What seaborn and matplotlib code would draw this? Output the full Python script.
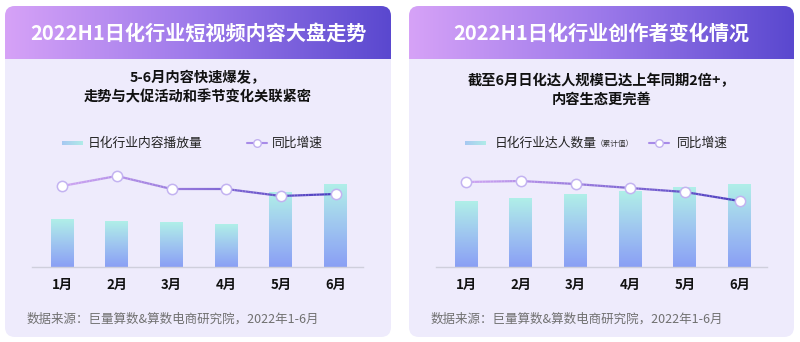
import numpy as np
import pandas as pd
import matplotlib
matplotlib.use("Agg")
import matplotlib.pyplot as plt
import seaborn as sns
from matplotlib.patches import FancyBboxPatch, Rectangle
from matplotlib.collections import LineCollection
from matplotlib.colors import LinearSegmentedColormap, to_rgb

# ---------------- data ----------------
months = ["1月", "2月", "3月", "4月", "5月", "6月"]
left_title = "2022H1日化行业短视频内容大盘走势"
left_sub = "5-6月内容快速爆发，\n走势与大促活动和季节变化关联紧密"
left_bar_name = "日化行业内容播放量"
left_bars = [48, 46, 45, 43, 75, 83]
left_line = [81, 91, 78, 78, 71, 73]

right_title = "2022H1日化行业创作者变化情况"
right_sub = "截至6月日化达人规模已达上年同期2倍+，\n内容生态更完善"
right_bar_name = "日化行业达人数量"
right_bar_note = "（累计值）"
right_bars = [66, 69, 73, 76, 80, 83]
right_line = [85, 86, 83, 79, 75, 66]

line_name = "同比增速"
source = "数据来源：巨量算数&算数电商研究院，2022年1-6月"

# ---------------- style ----------------
sns.set_theme(style="white")
plt.rcParams["font.family"] = ["Noto Sans CJK SC", "DejaVu Sans"]

W, H = 800, 342
fig = plt.figure(figsize=(W / 100, H / 100), dpi=100)
fig.patch.set_facecolor("white")

bg = fig.add_axes([0, 0, 1, 1], zorder=0)
bg.set_xlim(0, W)
bg.set_ylim(H, 0)
bg.axis("off")

card_bg = "#eeebfc"
hdr_cmap = LinearSegmentedColormap.from_list("hdr", ["#d6a2f7", "#9c79ea", "#5a48cf"])
bar_cmap = LinearSegmentedColormap.from_list("bar", ["#8a9ff5", "#9fc6f0", "#b0efe8"])
line_c0, line_c1 = to_rgb("#cfa6f2"), to_rgb("#4b3dbf")


def draw_card(x0, x1, y0, y1, hy, title, sub, sub_y):
    card = FancyBboxPatch((x0, y0), x1 - x0, y1 - y0,
                          boxstyle="round,pad=0,rounding_size=10",
                          fc=card_bg, ec="none", zorder=1)
    bg.add_patch(card)
    grad = np.linspace(0, 1, 256).reshape(1, -1)
    im = bg.imshow(grad, cmap=hdr_cmap, aspect="auto",
                   extent=(x0, x1, hy, y0), zorder=2)
    clip = Rectangle((x0, y0), x1 - x0, hy - y0, transform=bg.transData)
    im.set_clip_path(card)
    bg.add_patch(Rectangle((x0, y0), 0, 0, visible=False))
    cx = (x0 + x1) / 2
    bg.text(cx, (y0 + hy) / 2 + 1, title, color="white", fontsize=14.5,
            fontweight="bold", ha="center", va="center", zorder=3)
    bg.text(cx, sub_y, sub, color="#111111", fontsize=10.3, fontweight="bold",
            ha="center", va="center", linespacing=1.45, zorder=3)
    bg.text(x0 + 22, 319, source, color="#707070", fontsize=9,
            ha="left", va="center", zorder=3)


draw_card(5, 391, 6, 337, 59, left_title, left_sub, 88)
draw_card(409, 794, 6, 337, 59, right_title, right_sub, 90)


def legend(px, tx, lx, ltx, y, name, note=None):
    g = np.linspace(0, 1, 64).reshape(1, -1)
    bg.imshow(g, cmap=LinearSegmentedColormap.from_list("lg", ["#a6c8f2", "#b0ece8"]),
              aspect="auto", extent=(px, px + 21, y + 2, y - 2), zorder=3)
    t = bg.text(tx, y, name, fontsize=9.2, color="#222222", ha="left", va="center", zorder=3)
    if note:
        bg.text(tx + 112 if False else note[1], y + 1, note[0], fontsize=5.5, color="#333333",
                ha="left", va="center", zorder=3)
    bg.plot([lx, lx + 20], [y, y], color="#a88be8", lw=1.5, zorder=3)
    bg.scatter([lx + 10], [y], s=30, facecolor="white", edgecolor="#c2b0f0", lw=1.0, zorder=4)
    bg.text(ltx, y, line_name, fontsize=9.2, color="#222222", ha="left", va="center", zorder=3)


legend(62, 88, 247, 272, 143, left_bar_name)
legend(465, 495, 649, 677, 143, right_bar_name, note=(right_bar_note, 596))


def chart(x_left, x_right, bars, line):
    ax = fig.add_axes([x_left / W, (H - 267) / H, (x_right - x_left) / W, 100 / H], zorder=5)
    ax.patch.set_alpha(0)
    df = pd.DataFrame({"month": months, "value": bars, "rate": line})
    sns.barplot(data=df, x="month", y="value", ax=ax, width=0.42,
                color="#9fb8f2", saturation=1, edgecolor="none")
    for p in ax.patches:
        bx, by = p.get_x(), p.get_y()
        bw, bh = p.get_width(), p.get_height()
        grad = np.linspace(0, 1, 256).reshape(-1, 1)
        im = ax.imshow(grad, cmap=bar_cmap, origin="lower", aspect="auto",
                       extent=(bx, bx + bw, by, by + bh), zorder=2)
        im.set_clip_path(p)
        p.set_facecolor("none")
    xs = np.arange(len(months))
    ys = np.array(line, dtype=float)
    segs, cols = [], []
    n = len(xs) - 1
    for i in range(n):
        for k in range(20):
            t0, t1 = k / 20, (k + 1) / 20
            p0 = (xs[i] + t0, ys[i] + (ys[i + 1] - ys[i]) * t0)
            p1 = (xs[i] + t1, ys[i] + (ys[i + 1] - ys[i]) * t1)
            segs.append([p0, p1])
            f = (i + (t0 + t1) / 2) / n
            cols.append(tuple(np.array(line_c0) * (1 - f) + np.array(line_c1) * f))
    ax.add_collection(LineCollection(segs, colors=cols, linewidths=1.6, zorder=4))
    sns.scatterplot(data=df, x="month", y="rate", ax=ax, s=55, color="white",
                    edgecolor="#c3b3f1", linewidth=1.1, zorder=6, legend=False)
    ax.set_xlim(-0.55, 5.5)
    ax.set_ylim(0, 100)
    ax.set_xlabel("")
    ax.set_ylabel("")
    ax.set_yticks([])
    for s in ["top", "right", "left"]:
        ax.spines[s].set_visible(False)
    ax.spines["bottom"].set_color("#cfcfdc")
    ax.spines["bottom"].set_linewidth(1.0)
    ax.tick_params(axis="x", length=0, pad=8, labelsize=9.5, labelcolor="#111111")
    for lab in ax.get_xticklabels():
        lab.set_fontweight("bold")
    return ax


chart(32, 363, left_bars, left_line)
chart(436, 767, right_bars, right_line)

fig.savefig("out.png", dpi=100, facecolor="white")
